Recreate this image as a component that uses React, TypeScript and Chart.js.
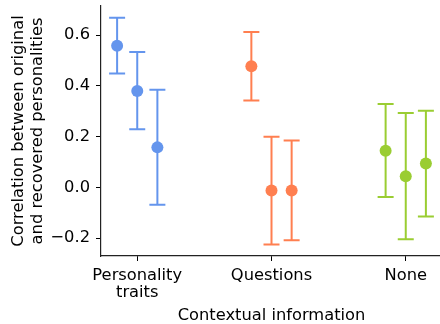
import React, { useEffect, useRef } from "react";
import { Chart, registerables } from "chart.js";

Chart.register(...registerables);

// ---- data ----
const categoryLabels: string[][] = [["Personality", "traits"], ["Questions"], ["None"]];
const categoryIndex = [0, 1, 2];
const dodge = [-0.15, 0, 0.15];
const colors = ["#6495ED", "#FF7F50", "#9ACD32"];

const personalityMean = [0.558, 0.38, 0.158];
const personalityLow = [0.449, 0.229, -0.068];
const personalityHigh = [0.669, 0.534, 0.385];

const questionsMean = [0.478, -0.012, -0.012];
const questionsLow = [0.343, -0.225, -0.208];
const questionsHigh = [0.613, 0.2, 0.185];

const noneMean = [0.145, 0.044, 0.094];
const noneLow = [-0.038, -0.204, -0.114];
const noneHigh = [0.329, 0.293, 0.302];

const yTicks = [-0.2, 0, 0.2, 0.4, 0.6];
const xTicks = [0, 1, 2];

const groups = [
  { mean: personalityMean, low: personalityLow, high: personalityHigh },
  { mean: questionsMean, low: questionsLow, high: questionsHigh },
  { mean: noneMean, low: noneLow, high: noneHigh },
];

const FONT = "'DejaVu Sans', sans-serif";
const FS = 16.3;

const errorBarPlugin = {
  id: "errorBars",
  beforeDatasetsDraw(chart: any) {
    const { ctx } = chart;
    const x = chart.scales.x;
    const y = chart.scales.y;
    chart.data.datasets.forEach((ds: any) => {
      ds.data.forEach((p: any) => {
        const px = x.getPixelForValue(p.x);
        const top = y.getPixelForValue(p.hi);
        const bot = y.getPixelForValue(p.lo);
        ctx.save();
        ctx.strokeStyle = ds.backgroundColor;
        ctx.lineWidth = 2;
        ctx.beginPath();
        ctx.moveTo(px, top);
        ctx.lineTo(px, bot);
        ctx.moveTo(px - 8, top);
        ctx.lineTo(px + 8, top);
        ctx.moveTo(px - 8, bot);
        ctx.lineTo(px + 8, bot);
        ctx.stroke();
        ctx.restore();
      });
    });
  },
};

export default function App() {
  const ref = useRef<HTMLCanvasElement | null>(null);

  useEffect(() => {
    document.body.style.margin = "0";
    const canvas = ref.current;
    if (!canvas) return;
    const datasets = groups.map((g, gi) => ({
      label: categoryLabels[gi].join(" "),
      data: g.mean.map((m, i) => ({
        x: categoryIndex[gi] + dodge[i],
        y: m,
        lo: g.low[i],
        hi: g.high[i],
      })),
      backgroundColor: colors[gi],
      borderColor: colors[gi],
      pointRadius: 6,
      pointBorderWidth: 0,
      showLine: false,
    }));

    const chart = new Chart(canvas, {
      type: "scatter",
      data: { datasets },
      plugins: [errorBarPlugin],
      options: {
        animation: false,
        responsive: false,
        maintainAspectRatio: false,
        devicePixelRatio: 1,
        layout: { padding: { top: 5, left: 0, right: 0, bottom: 0 } },
        plugins: { legend: { display: false }, tooltip: { enabled: false } },
        scales: {
          x: {
            type: "linear",
            min: -0.27,
            max: 2.27,
            afterBuildTicks: (s: any) => {
              s.ticks = xTicks.map((v) => ({ value: v }));
            },
            afterFit: (s: any) => {
              s.height = 68;
              s.paddingLeft = 0;
              s.paddingRight = 0;
            },
            ticks: {
              color: "#000",
              font: { family: FONT, size: FS, lineHeight: 1.0 },
              padding: 7,
              maxRotation: 0,
              autoSkip: false,
              callback: (v: any) => categoryLabels[Math.round(Number(v))],
            },
            grid: {
              display: true,
              drawOnChartArea: false,
              drawTicks: true,
              tickLength: 5,
              color: "#000",
              lineWidth: 1,
            },
            border: { display: true, color: "#222", width: 1.2 },
            title: {
              display: true,
              text: "Contextual information",
              color: "#000",
              font: { family: FONT, size: FS, lineHeight: 1.0 },
              padding: { top: 0, bottom: 0 },
            },
          },
          y: {
            type: "linear",
            min: -0.27,
            max: 0.715,
            afterBuildTicks: (s: any) => {
              s.ticks = yTicks.map((v) => ({ value: v }));
            },
            afterFit: (s: any) => {
              s.width = 101;
              s.paddingTop = 0;
              s.paddingBottom = 0;
            },
            ticks: {
              color: "#000",
              font: { family: FONT, size: FS },
              padding: 6,
              callback: (v: any) => Number(v).toFixed(1).replace("-", "\u2212"),
            },
            grid: {
              display: true,
              drawOnChartArea: false,
              drawTicks: true,
              tickLength: 5,
              color: "#000",
              lineWidth: 1,
            },
            border: { display: true, color: "#222", width: 1.2 },
            title: {
              display: true,
              text: ["Correlation between original", "and recovered personalities"],
              color: "#000",
              font: { family: FONT, size: FS, lineHeight: 1.12 },
              padding: { top: 10, bottom: 0 },
            },
          },
        },
      },
    } as any);
    return () => chart.destroy();
  }, []);

  return (
    <div style={{ position: "absolute", left: 0, top: 0, width: 440, height: 324, overflow: "hidden", background: "#fff" }}>
      <canvas ref={ref} width={448} height={324} style={{ width: 448, height: 324, display: "block" }} />
    </div>
  );
}
